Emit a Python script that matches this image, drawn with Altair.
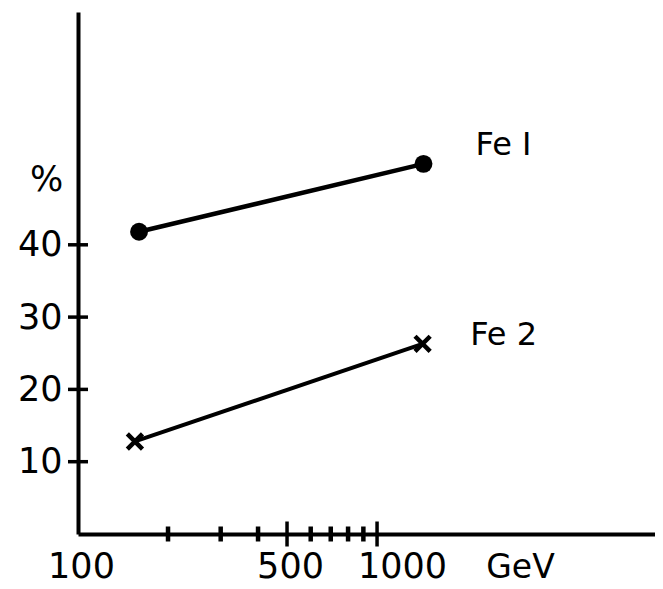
import altair as alt
import pandas as pd

# ---- data ----
series_names = ["Fe I", "Fe 2"]
energy_fe1 = [160, 1430]
pct_fe1 = [41.8, 51.2]
energy_fe2 = [155, 1420]
pct_fe2 = [12.8, 26.3]

x_label_values = [100, 500, 1000]
x_major_ticks = [500, 1000]
x_minor_ticks = [200, 300, 400, 600, 700, 800, 900]
y_tick_values = [10, 20, 30, 40]

x_domain = [100, 8500]
y_domain = [0, 72.2]

FONT = "DejaVu Sans"

fe1 = pd.DataFrame({"E": energy_fe1, "pct": pct_fe1})
fe2 = pd.DataFrame({"E": energy_fe2, "pct": pct_fe2})
fe1_last = fe1.tail(1).assign(label=series_names[0])
fe2_last = fe2.tail(1).assign(label=series_names[1])
yt = pd.DataFrame({"E": [x_domain[0]] * len(y_tick_values), "pct": y_tick_values})
xt_major = pd.DataFrame({"E": x_major_ticks, "pct": [y_domain[0]] * len(x_major_ticks)})
xt_minor = pd.DataFrame({"E": x_minor_ticks, "pct": [y_domain[0]] * len(x_minor_ticks)})

xs = alt.Scale(type="log", domain=x_domain, nice=False)
ys = alt.Scale(domain=y_domain, nice=False, zero=False)

x_axis = alt.Axis(
    values=x_label_values, format="d", grid=False, ticks=False, tickSize=0,
    domainColor="black", domainWidth=4,
    labelFont=FONT, labelFontSize=35, labelColor="black",
    labelBaseline="alphabetic", labelPadding=43, labelFlush=False,
    labelOverlap=False, labelBound=False,
    labelOffset={"condition": {"test": "datum.value == 1000", "value": 25}, "value": 3},
    title="GeV", titleFont=FONT, titleFontSize=33, titleFontWeight="normal",
    titleColor="black", titleX=442, titleY=43, titleAlign="center",
    titleBaseline="alphabetic", titleAnchor="start",
)
y_axis = alt.Axis(
    values=y_tick_values, grid=False, ticks=False, tickSize=0,
    domainColor="black", domainWidth=4,
    labelFont=FONT, labelFontSize=35, labelColor="black",
    labelPadding=16, labelFlush=False, labelOverlap=False,
    title="%", titleFont=FONT, titleFontSize=35, titleFontWeight="normal",
    titleColor="black", titleAngle=0, titleX=-32, titleY=178,
    titleAlign="center", titleBaseline="alphabetic", titleAnchor="start",
)

X = alt.X("E:Q", scale=xs, axis=x_axis)
Y = alt.Y("pct:Q", scale=ys, axis=y_axis)

line1 = alt.Chart(fe1).mark_line(color="black", strokeWidth=4.5).encode(x=X, y=Y)
pts1 = alt.Chart(fe1).mark_point(shape="circle", filled=True, size=320,
                                 color="black", opacity=1).encode(x=X, y=Y)
line2 = alt.Chart(fe2).mark_line(color="black", strokeWidth=4).encode(x=X, y=Y)
pts2 = alt.Chart(fe2).mark_point(shape="M-1,-1L1,1M1,-1L-1,1", filled=False,
                                 size=230, strokeWidth=4.5, color="black",
                                 opacity=1).encode(x=X, y=Y)
lab1 = alt.Chart(fe1_last).mark_text(font=FONT, fontSize=32, color="black",
                                     dx=80, dy=-19, align="center",
                                     baseline="middle").encode(x=X, y=Y, text="label:N")
lab2 = alt.Chart(fe2_last).mark_text(font=FONT, fontSize=32, color="black",
                                     dx=81, dy=-9, align="center",
                                     baseline="middle").encode(x=X, y=Y, text="label:N")
ytick = alt.Chart(yt).mark_tick(orient="horizontal", size=20, thickness=3.5,
                                color="black", opacity=1).encode(x=X, y=Y)
xtick_major = alt.Chart(xt_major).mark_tick(orient="vertical", size=25, thickness=3.5,
                                            color="black", opacity=1).encode(x=X, y=Y)
xtick_minor = alt.Chart(xt_minor).mark_tick(orient="vertical", size=15, thickness=4.5,
                                            color="black", opacity=1).encode(x=X, y=Y)

chart = alt.layer(
    line1, pts1, line2, pts2, lab1, lab2, ytick, xtick_major, xtick_minor
).properties(
    width=577, height=522,
    autosize=alt.AutoSizeParams(type="none"),
    padding={"left": 70, "top": 4, "right": 0, "bottom": 52},
    background="white",
).configure_view(stroke=None)

chart.save("out.html", embed_options={"renderer": "svg", "actions": False})
